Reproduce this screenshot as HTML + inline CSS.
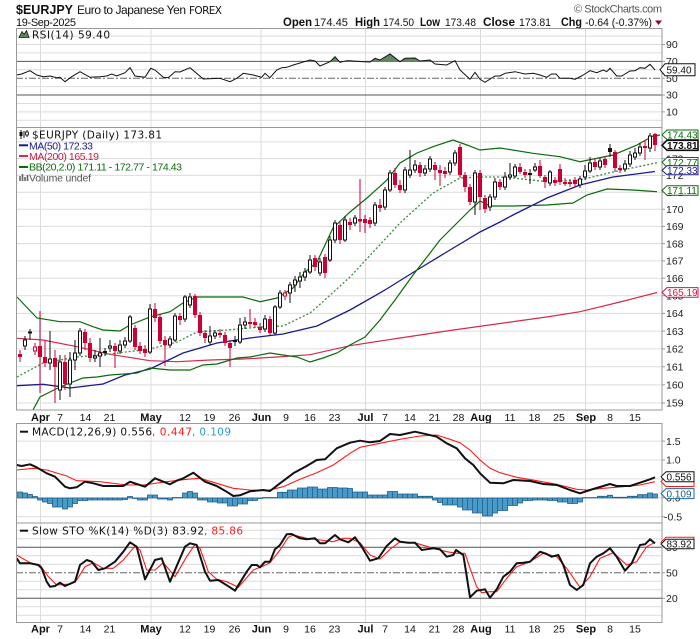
<!DOCTYPE html>
<html><head><meta charset="utf-8">
<style>
html,body{margin:0;padding:0;background:#fff;}
svg{display:block;}
text{font-family:"Liberation Sans",Arial,sans-serif;fill:#111;}
.d{font-family:"DejaVu Sans","Liberation Sans",sans-serif;}
.ax{font-size:10.5px;fill:#222;}
.bx{font-size:10px;}
</style></head><body>
<svg width="700" height="639" viewBox="0 0 700 639" xmlns="http://www.w3.org/2000/svg">
<defs>
<clipPath id="cp"><rect x="16.5" y="127.5" width="645.5" height="282.5"/></clipPath>
<clipPath id="cr"><rect x="16.5" y="28.5" width="645.5" height="32.9"/></clipPath>
</defs>
<rect width="700" height="639" fill="#fff"/>

<!-- Header -->
<text x="16" y="14" font-weight="bold" font-size="13" textLength="57" lengthAdjust="spacingAndGlyphs">$EURJPY</text>
<text x="77" y="14" font-size="12" textLength="109">Euro to Japanese Yen</text>
<text x="189" y="14" class="d" font-size="10.5" textLength="33">FOREX</text>
<text x="16" y="26" font-size="11" textLength="60">19-Sep-2025</text>
<text x="574" y="12.5" font-size="11" style="fill:#555" textLength="88">© StockCharts.com</text>
<text x="283" y="26" font-weight="bold" font-size="12" textLength="29" lengthAdjust="spacingAndGlyphs">Open</text>
<text x="314" y="26" font-size="11" textLength="34" lengthAdjust="spacingAndGlyphs">174.45</text>
<text x="355" y="26" font-weight="bold" font-size="12" textLength="25" lengthAdjust="spacingAndGlyphs">High</text>
<text x="383" y="26" font-size="11" textLength="31" lengthAdjust="spacingAndGlyphs">174.50</text>
<text x="420" y="26" font-weight="bold" font-size="12" textLength="20" lengthAdjust="spacingAndGlyphs">Low</text>
<text x="445" y="26" font-size="11" textLength="31" lengthAdjust="spacingAndGlyphs">173.48</text>
<text x="483" y="26" font-weight="bold" font-size="12" textLength="32" lengthAdjust="spacingAndGlyphs">Close</text>
<text x="519" y="26" font-size="11" textLength="32" lengthAdjust="spacingAndGlyphs">173.81</text>
<text x="561" y="26" font-weight="bold" font-size="12" textLength="21" lengthAdjust="spacingAndGlyphs">Chg</text>
<text x="585" y="26" font-size="11" textLength="67" lengthAdjust="spacingAndGlyphs">-0.64 (-0.37%)</text>
<polygon points="655,20.5 662,20.5 658.5,25" fill="#a00030"/>

<!-- RSI panel grid -->
<g stroke="#dcdcdc" stroke-width="1">
<path d="M16 36.1H662M16 44.5H662M16 52.9H662M16 69.8H662M16 86.6H662M16 103.5H662M16 111.9H662M16 120.3H662"/>
<path d="M40.5 28V127.5M151 28V127.5M261 28V127.5M365.5 28V127.5M480.5 28V127.5M585.5 28V127.5"/>
</g>
<path d="M16 61.4H662M16 95H662" stroke="#555" stroke-width="1"/>
<path d="M16 78.2H662" stroke="#666" stroke-width="1" stroke-dasharray="7,2,2,2"/>
<polygon clip-path="url(#cr)" fill="#5f8a5f" points="290,65 293.3,65 310,60 315,61 320,66 330,61.7 335,56.7 340,62.3 346.7,60.7 350,60.7 363.3,61.7 370,62 375,58.3 380,60 390,54 400,61.7 405,58.3 415,58 420,61 430,60 435,64 446.7,65 455,60.7 460,70 460,61.4 290,61.4"/>
<polyline fill="none" stroke="#111" stroke-width="1" points="16.7,75 21.7,74 30,70.7 36.7,75 43.3,76.7 50,76 56.7,77.7 60,77.3 65,81.7 71.7,76.7 80,71.7 90,77.3 100,76.7 106.7,76 111.7,74 116.7,76 125,72.7 130,67.7 135,76 145,77.3 150.7,68.3 155,70 163.3,77.3 168.3,77.7 175,71.7 180,72 190,67.7 203.3,79 220,78.3 230,81.7 236.7,78.3 243.3,73.3 253.3,75 261.7,77.3 265,73.3 270,77.7 276.7,70 281.7,67.7 286.7,67.3 293.3,65 310,60 315,61 320,66 330,61.7 335,56.7 340,62.3 346.7,60.7 350,60.7 363.3,61.7 370,62 375,58.3 380,60 390,54 400,61.7 405,58.3 415,58 420,61 430,60 435,64 446.7,65 455,60.7 460,70 470,79.3 475,72.3 480,79.3 485,82.3 495,76 500,76 505,73.3 515,71.7 525,74 533.3,73.3 540,75 546.7,77.3 551.7,74 556,74 560,78.3 570,78.3 575,79.3 583.3,75 590,70.7 596.7,72.7 603.3,70 606.7,71.7 610,68.3 616.7,76 621.7,76 630,71 635,70.7 640,67.7 645,68.3 650,64.3 655,70"/>
<rect x="16.5" y="28.5" width="645.5" height="99" fill="none" stroke="#999"/>
<polygon points="19,37.5 22,31.5 24,34.5 26.5,30.5 29,37.5" fill="#5f8a5f" stroke="#111" stroke-width="0.8"/>
<text x="32" y="38.3" class="d" font-size="10.5" textLength="78">RSI(14) 59.40</text>

<!-- Price panel grid -->
<g stroke="#dcdcdc" stroke-width="1">
<path d="M16 403H662M16 384.9H662M16 366.8H662M16 348.9H662M16 331.1H662M16 313.4H662M16 295.8H662M16 278.3H662M16 260.9H662M16 243.6H662M16 226.4H662M16 209.3H662M16 192.3H662M16 175.4H662M16 158.6H662M16 141.9H662"/>
<path d="M40.5 127.5V410M151 127.5V410M261 127.5V410M365.5 127.5V410M480.5 127.5V410M585.5 127.5V410"/>
</g>

<g clip-path="url(#cp)" fill="none">
<polyline stroke="#d42a50" stroke-width="1.2" points="17,338.3 43,340 77,346.7 110,354.3 150,360.7 177,361.7 210,360 243,359 277,357 310,354.7 350,345.7 400,338 450,330.5 500,323.5 550,316.5 580,311.7 620,302 657,292.5"/>
<polyline stroke="#1a1a8c" stroke-width="1.3" points="17,385.7 43,384.3 70,388 103,384 125,375 150,369 183,353 217,343 250,338 283,334 317,326 350,310 385,290 417,270 450,250 480,232 500,222 513,215 547,198 580,185 613,177 655,171.5"/>
<polyline stroke="#3c8c3c" stroke-width="1.3" stroke-dasharray="2,2" points="17,377 43,363 77,357 110,354 150,349 177,342 197,332 227,330 260,327 283,326 310,313 317,307 350,277 400,223 433,193 460,178 480,177 500,177 513,178 547,181.7 580,180 613,172 657,162.7"/>
<polyline stroke="#0a6b0a" stroke-width="1.2" points="17,297 37,318 60,321.7 80,321.7 93,326.7 103,330 120,331 130,325 150,317 170,311.7 183,303 197,297 243,297 260,301.7 277,298 293,288 305,272 317,262 333,228 350,212 367,198 387,180 400,163 417,153 433,146.7 453,140 467,145 480,150 500,148 533,153.3 560,156.7 580,161.7 613,155 637,145 653,136 660,135"/>
<polyline stroke="#0a6b0a" stroke-width="1.2" points="33,410 40,397 50,392 60,387 70,383 83,378 97,377 110,375 137,373 150,368 170,370 190,370 203,365 217,364 237,358 250,357 270,353 283,355 297,357 310,362 323,358 337,353 350,345 365,337 380,320 395,300 413,275 427,257 440,240 457,223 470,210 480,201 490,206 513,206 547,205 573,203 587,195 607,189 633,190 647,191 657,191.7"/>

<!-- wicks -->
<path stroke="#111" stroke-width="1" d="M25 336V350M30 329V340M50 331V370M60 355V400M70 352V397M75 340V370M80 328V356M95 350V362M100 338V367M105 348V356M110 340V352M120 340V354M125 337V348M130 315V343M150 304V354M170 336V348M175 313V342M185 295V322M190 293V308M210 326V345M215 330V339M235 336V346M240 318V344M245 317V329M265 315V332M275 305V335M280 290V309M290 282V303M295 276V292M300 272V288M305 268V281M310 255V274M320 258V276M330 236V262M335 220V243M345 216V242M355 215V226M375 202V226M385 187V210M390 170V192M405 167V193M410 150V178M415 160V173M425 165V176M430 156V172M450 160V175M455 150V166M475 170V215M490 194V211M495 178V200M505 172V190M510 163V180M515 164V178M530 169V184M535 163V172M550 170V186M580 176V188M585 165V180M590 157V173M600 158V170M610 144V157M625 160V172M630 151V167M635 148V160M640 143V156M650 133V152"/>
<path stroke="#cc0033" stroke-width="1" d="M20 350V362M35 343V355M40 311V393M45 340V367M55 350V403M65 355V390M85 329V350M90 338V362M115 343V368M135 325V350M140 342V354M145 345V357M155 303V322M160 314V344M165 336V366M180 313V325M195 294V318M200 312V336M205 330V343M220 329V338M225 332V346M230 340V367M250 309V327M255 318V328M260 323V333M270 316V335M285 290V300M315 255V271M325 254V278M340 222V244M350 218V230M360 179V232M365 215V233M370 217V228M380 199V212M395 168V188M400 180V193M420 162V177M435 162V180M440 165V186M445 167V178M460 144V178M465 172V192M470 184V205M480 170V210M485 195V213M500 179V190M520 163V174M525 169V178M540 160V178M545 175V188M555 177V186M560 164V185M565 178V186M570 179V187M575 177V187M595 158V170M605 156V168M615 150V172M620 165V173M645 140V160M655 133V151"/>

<!-- hollow up bodies -->
<path fill="#fff" stroke="#111" stroke-width="1" d="M23.5 340h3V346h-3zM48.5 359h3V363h-3zM58.5 362h3V390h-3zM68.5 360h3V384h-3zM73.5 353h3V360h-3zM78.5 331h3V353h-3zM93.5 356h3V358h-3zM98.5 353h3V356h-3zM108.5 346h3V348h-3zM118.5 345h3V351h-3zM123.5 341h3V345h-3zM128.5 317h3V341h-3zM148.5 309h3V352h-3zM168.5 339h3V345h-3zM173.5 316h3V340h-3zM183.5 297h3V319h-3zM188.5 297h3V305h-3zM208.5 336h3V342h-3zM213.5 333h3V336h-3zM238.5 325h3V342h-3zM243.5 322h3V325h-3zM263.5 319h3V329h-3zM273.5 307h3V333h-3zM278.5 293h3V307h-3zM288.5 285h3V293h-3zM293.5 280h3V285h-3zM298.5 277h3V281h-3zM303.5 272h3V277h-3zM308.5 260h3V272h-3zM318.5 262h3V273h-3zM328.5 240h3V260h-3zM333.5 223h3V240h-3zM343.5 220h3V240h-3zM353.5 218h3V223h-3zM373.5 205h3V223h-3zM383.5 190h3V207h-3zM388.5 173h3V190h-3zM403.5 170h3V190h-3zM408.5 170h3V175h-3zM413.5 165h3V170h-3zM423.5 169h3V173h-3zM428.5 159h3V169h-3zM448.5 163h3V172h-3zM453.5 153h3V163h-3zM473.5 173h3V202h-3zM488.5 197h3V207h-3zM493.5 182h3V197h-3zM503.5 177h3V187h-3zM508.5 175h3V177h-3zM513.5 167h3V176h-3zM533.5 167h3V170h-3zM548.5 172h3V183h-3zM578.5 179h3V185h-3zM583.5 171h3V177h-3zM588.5 163h3V171h-3zM598.5 161h3V167h-3zM623.5 164h3V169h-3zM628.5 155h3V164h-3zM633.5 153h3V157h-3zM638.5 147h3V153h-3zM648.5 136h3V148h-3z"/>
<!-- red hollow -->
<path fill="#fff" stroke="#cc0033" stroke-width="1" d="M33.5 347h3V351h-3zM283.5 293h3V296h-3z"/>
<!-- red filled -->
<path fill="#cc0033" d="M18 354h4V357h-4zM38 346h4V357h-4zM43 357h4V363h-4zM53 358h4V367h-4zM63 362h4V384h-4zM83 332h4V343h-4zM88 343h4V358h-4zM113 346h4V351h-4zM133 328h4V347h-4zM138 346h4V351h-4zM143 349h4V353h-4zM153 309h4V318h-4zM158 317h4V341h-4zM163 340h4V345h-4zM178 316h4V320h-4zM193 296h4V315h-4zM198 315h4V333h-4zM203 333h4V338h-4zM218 333h4V335h-4zM223 335h4V343h-4zM228 343h4V348h-4zM248 322h4V324h-4zM253 322h4V325h-4zM258 327h4V330h-4zM268 319h4V333h-4zM313 258h4V267h-4zM323 257h4V273h-4zM338 225h4V240h-4zM348 222h4V225h-4zM358 219h4V221.5h-4zM363 219h4V223h-4zM368 220h4V224h-4zM378 205h4V208h-4zM393 173h4V185h-4zM398 185h4V190h-4zM418 165h4V173h-4zM433 165h4V170h-4zM438 170h4V173h-4zM443 171h4V174h-4zM458 147h4V175h-4zM463 175h4V187h-4zM468 187h4V202h-4zM478 173h4V197h-4zM483 198h4V209h-4zM498 182h4V187h-4zM518 167h4V172h-4zM523 172h4V175h-4zM538 166h4V176h-4zM543 177h4V182h-4zM553 180h4V183h-4zM558 169h4V182h-4zM563 182h4V184h-4zM568 182h4V184h-4zM573 180h4V184h-4zM593 162h4V167h-4zM603 159h4V165h-4zM613 152h4V168h-4zM618 168h4V170h-4zM643 146h4V148h-4zM653 134h4V145h-4z"/>
<!-- black filled -->
<path fill="#111" d="M28 331.5h4V333.5h-4zM103 351h4V353h-4zM233 340h4V342h-4zM528 173h4V175h-4zM608 148h4V152h-4z"/>
</g>
<rect x="16.5" y="127.5" width="645.5" height="282.5" fill="none" stroke="#999"/>

<!-- price legend -->
<g fill="none" stroke="#111" stroke-width="1">
<path d="M21 130V139M24 131V138M27 130V137"/>
</g>
<rect x="19.5" y="132" width="3" height="4" fill="#111"/>
<rect x="25.5" y="132" width="3" height="3" fill="#fff" stroke="#111" stroke-width="0.8"/>
<text x="32" y="138.3" class="d" font-size="10.5" textLength="130">$EURJPY (Daily) 173.81</text>
<path d="M19 145.3H28" stroke="#1a1a8c" stroke-width="2"/>
<text x="29" y="149.3" font-size="10.5" style="fill:#1a1a8c" textLength="64">MA(50) 172.33</text>
<path d="M19 156H28" stroke="#d42a50" stroke-width="2"/>
<text x="29" y="160" font-size="10.5" style="fill:#cc1a44" textLength="70">MA(200) 165.19</text>
<path d="M19 167H28" stroke="#0a6b0a" stroke-width="2"/>
<text x="29" y="170.7" font-size="10.5" style="fill:#0a6b0a" textLength="153">BB(20,2.0) 171.11 - 172.77 - 174.43</text>
<path d="M20 181V176M22.5 181V174M25 181V177M27.5 181V175" stroke="#666" stroke-width="1.6"/>
<text x="29" y="181.5" font-size="10.5" style="fill:#555" textLength="62">Volume undef</text>

<!-- x axis labels top -->
<g font-size="10.5" text-anchor="middle">
<text x="40.5" y="421" font-weight="bold" font-size="11">Apr</text>
<text x="60" y="421">7</text><text x="85.5" y="421">14</text><text x="109.5" y="421">21</text>
<text x="151" y="421" font-weight="bold" font-size="11">May</text>
<text x="185" y="421">12</text><text x="209.5" y="421">19</text><text x="234.5" y="421">26</text>
<text x="261.5" y="421" font-weight="bold" font-size="11">Jun</text>
<text x="286" y="421">9</text><text x="310" y="421">16</text><text x="334.5" y="421">23</text>
<text x="365.5" y="421" font-weight="bold" font-size="11">Jul</text>
<text x="385" y="421">7</text><text x="410" y="421">14</text><text x="434.5" y="421">21</text><text x="458.5" y="421">28</text>
<text x="481" y="421" font-weight="bold" font-size="11">Aug</text>
<text x="510" y="421">11</text><text x="534.5" y="421">18</text><text x="559" y="421">25</text>
<text x="586" y="421" font-weight="bold" font-size="11">Sep</text>
<text x="610" y="421">8</text><text x="635" y="421">15</text>
</g>

<!-- MACD panel -->
<g stroke="#dcdcdc" stroke-width="1">
<path d="M16 441.1H662M16 460H662M16 478.9H662M16 497.8H662M16 516.7H662"/>
<path d="M40.5 423.5V523M151 423.5V523M261 423.5V523M365.5 423.5V523M480.5 423.5V523M585.5 423.5V523"/>
</g>
<path fill="#4a9bc9" stroke="#1d5e8a" stroke-width="0.8" d="M17.5 492h5V498h-5zM22.5 493h5V498h-5zM27.5 494.5h5V498h-5zM32.5 496.5h5V498h-5zM37.5 498h5V500h-5zM42.5 498h5V502h-5zM47.5 498h5V503.5h-5zM52.5 498h5V507h-5zM57.5 498h5V507h-5zM62.5 498h5V509h-5zM67.5 498h5V507h-5zM72.5 498h5V503.5h-5zM77.5 498h5V500.5h-5zM82.5 498h5V500.5h-5zM87.5 498h5V500h-5zM92.5 498h5V500h-5zM97.5 498h5V500h-5zM102.5 498h5V500h-5zM107.5 498h5V500h-5zM112.5 498h5V500h-5zM117.5 498h5V500h-5zM122.5 498h5V499.5h-5zM127.5 496.5h5V498h-5zM132.5 498h5V498.5h-5zM137.5 498h5V500h-5zM142.5 498h5V500h-5zM147.5 495h5V498h-5zM152.5 495h5V498h-5zM157.5 498h5V499h-5zM162.5 498h5V499h-5zM167.5 498h5V500h-5zM172.5 497.5h5V498h-5zM177.5 497.5h5V498h-5zM182.5 493h5V498h-5zM187.5 491.5h5V498h-5zM192.5 493h5V498h-5zM197.5 498h5V500h-5zM202.5 498h5V500h-5zM207.5 498h5V502h-5zM212.5 498h5V502h-5zM217.5 498h5V503h-5zM222.5 498h5V503h-5zM227.5 498h5V506h-5zM232.5 498h5V506h-5zM237.5 498h5V504h-5zM242.5 498h5V504h-5zM247.5 498h5V500.5h-5zM252.5 498h5V500.5h-5zM257.5 498h5V498.5h-5zM262.5 497.5h5V498h-5zM267.5 497.5h5V498h-5zM272.5 497.5h5V498h-5zM277.5 492.3h5V498h-5zM282.5 492.3h5V498h-5zM287.5 490h5V498h-5zM292.5 490h5V498h-5zM297.5 488h5V498h-5zM302.5 488h5V498h-5zM307.5 487h5V498h-5zM312.5 487h5V498h-5zM317.5 489h5V498h-5zM322.5 489h5V498h-5zM327.5 487.5h5V498h-5zM332.5 487.5h5V498h-5zM337.5 488h5V498h-5zM342.5 488h5V498h-5zM347.5 488.5h5V498h-5zM352.5 492h5V498h-5zM357.5 492h5V498h-5zM362.5 492h5V498h-5zM367.5 495h5V498h-5zM372.5 495h5V498h-5zM377.5 495h5V498h-5zM382.5 495h5V498h-5zM387.5 491.5h5V498h-5zM392.5 491.5h5V498h-5zM397.5 494h5V498h-5zM402.5 494h5V498h-5zM407.5 494h5V498h-5zM412.5 494h5V498h-5zM417.5 496.3h5V498h-5zM422.5 496.3h5V498h-5zM427.5 496.3h5V498h-5zM432.5 498h5V500h-5zM437.5 498h5V502.5h-5zM442.5 498h5V505h-5zM447.5 498h5V505h-5zM452.5 498h5V505h-5zM457.5 498h5V507h-5zM462.5 498h5V510h-5zM467.5 498h5V510h-5zM472.5 498h5V513h-5zM477.5 498h5V513h-5zM482.5 498h5V516h-5zM487.5 498h5V516h-5zM492.5 498h5V513h-5zM497.5 498h5V510.5h-5zM502.5 498h5V510.5h-5zM507.5 498h5V505.5h-5zM512.5 498h5V505.5h-5zM517.5 498h5V503h-5zM522.5 498h5V500.5h-5zM527.5 498h5V500.5h-5zM532.5 498h5V500h-5zM537.5 498h5V500h-5zM542.5 498h5V500h-5zM547.5 498h5V500.5h-5zM552.5 498h5V500.5h-5zM557.5 498h5V502h-5zM562.5 498h5V502h-5zM567.5 498h5V503.5h-5zM572.5 498h5V503.5h-5zM577.5 498h5V502h-5zM582.5 497.7h5V498h-5zM587.5 497.7h5V498h-5zM592.5 497.7h5V498h-5zM597.5 496.3h5V498h-5zM602.5 496.3h5V498h-5zM607.5 495.3h5V498h-5zM612.5 497.3h5V498h-5zM617.5 497.3h5V498h-5zM622.5 497.3h5V498h-5zM627.5 496.3h5V498h-5zM632.5 496.3h5V498h-5zM637.5 494.7h5V498h-5zM642.5 494.7h5V498h-5zM647.5 493h5V498h-5zM652.5 494h5V498h-5z"/>
<polyline fill="none" stroke="#ff1a1a" stroke-width="1.1" points="16.7,470 33.3,468.3 46.7,470 66.7,476 76.7,480.7 100,481.7 126.7,485 143.3,485 166.7,481.7 186.7,479.3 200,478.3 216.7,483.3 233.3,488.3 250,490 266.7,490.7 283.3,486.7 300,479.3 316.7,472.7 333.3,465 350,453.3 360,447.3 380,443.3 400,439.3 420,436 436.7,435 450,439.3 460,442.7 470,450 480,460 490,468.3 500,472.7 516.7,477.3 536.7,480.7 556.7,484.3 576.7,489.3 586.7,490 603.3,488.3 623.3,486.7 640,485 655,481.7"/>
<polyline fill="none" stroke="#111" stroke-width="2" stroke-linejoin="round" points="16.7,465 21.7,466 30,464.3 36.7,467.3 46.7,473.3 55,476.7 65,486.7 70,488.3 76.7,487.3 85,481.7 93.3,483.3 103.3,486 123.3,486 130,481.7 136.7,484 145,486.7 155,478.3 163.3,481.7 170,484.3 176.7,480.7 183.3,478.3 193.3,472.7 205,481.7 216.7,486 226.7,491.7 233.3,496 240,495.3 250,491.3 263.3,490 270,491 280,483.3 293.3,473.3 306.7,466 316.7,460 325,459.3 336.7,448.3 350,442.7 360,440.7 370,442.3 380,441 390,434 400,435 415,431.7 426.7,434.3 436.7,436.7 446.7,443.3 456.7,448.3 465,458.3 473.3,465 480,473.3 490,482.7 503.3,483.3 513.3,480 530,481 543.3,484 556.7,485 570,490 580,493.3 590,490 603.3,486 610,484 616.7,486 630,486 640,482.7 650,479.3 655,477.3"/>
<rect x="16.5" y="423.5" width="645.5" height="99.5" fill="none" stroke="#999"/>
<path d="M20 431.7H28" stroke="#111" stroke-width="2"/>
<text x="32" y="435.5" class="d" font-size="10.5" textLength="120">MACD(12,26,9) 0.556</text>
<text x="152" y="435.5" class="d" font-size="10.5" style="fill:#ff1a1a" textLength="40">, 0.447</text>
<text x="192" y="435.5" class="d" font-size="10.5" style="fill:#2a9ad6" textLength="39">, 0.109</text>

<!-- STO panel -->
<g stroke="#dcdcdc" stroke-width="1">
<path d="M16 530.3H662M16 538.8H662M16 555.8H662M16 564.3H662M16 581.3H662M16 589.8H662M16 606.8H662M16 615.3H662"/>
<path d="M40.5 523V622.5M151 523V622.5M261 523V622.5M365.5 523V622.5M480.5 523V622.5M585.5 523V622.5"/>
</g>
<path d="M16 547.3H662M16 598.3H662" stroke="#555" stroke-width="1"/>
<path d="M16 572.8H662" stroke="#666" stroke-width="1" stroke-dasharray="7,2,2,2"/>
<polyline fill="none" stroke="#ff1a1a" stroke-width="1.1" points="16.7,555 30,562.7 40,565 48.3,576.7 56.7,585 70,584 76.7,580 85,566.7 93.3,562.7 103.3,568.3 113.3,568.3 123.3,560 135,546 140,550 146.7,570 155,570 163.3,562.7 175,576.7 186.7,556.7 195,544.3 200,548.3 208.3,571.7 216.7,579.3 226.7,581.7 238.3,587.3 253.3,570 263.3,566 270,562.7 280,550 288.3,537.3 293.3,535 306.7,538.3 320,540 333.3,541.7 343.3,538.3 350,538.3 360,542.7 370,555 380,559 390,549.3 400,541.7 416.7,543.3 433.3,548.3 446.7,551.7 456.7,553.3 465,553.3 470,568.3 476.7,586.7 481.7,592.7 490,591.7 496.7,591.7 506.7,578.3 516.7,566.7 530,561.7 543.3,553.3 556.7,556.7 566.7,568.3 580,587.3 590,576.7 600,558.3 613.3,552.7 626.7,565 636.7,561.7 646.7,546.7 655,542.3"/>
<polyline fill="none" stroke="#111" stroke-width="2" stroke-linejoin="round" points="16.7,558.3 20,563.3 30,563.3 38.3,565 41.7,568.3 46.7,581.7 50,586.7 55,586 60,582.7 65,586 75,581.7 80,565 86.7,560 91.7,561.7 98.3,570 105,568.3 115,561.7 123.3,551.7 130,542.3 136.7,546.7 145,579.3 155,560 161.7,558.3 170,581.7 185,546.7 190,543.3 196.7,545 205,571.7 210,580.7 218.3,580 230,587.3 235,590.7 246.7,571.7 251.7,565 256.7,565 260,567.3 265,561.7 270,561.7 275,549.3 280,545 286.7,534.3 291.7,534 300,538.3 306.7,539.3 315,538.3 320,543.3 325,543.3 335,535 340,539.3 348.3,542.3 355,537.3 361.7,546.7 370,560.7 378.3,558.3 386.7,546 395,538.3 400,541.7 408.3,542.7 415,542.7 421.7,550 433.3,548.3 440,549.3 446.7,556.7 453.3,555 456,550 463.3,555 466,571.7 470,597.3 476.7,590.7 485,589.3 490,597.7 496.7,589.3 503.3,576.7 510,571.7 516.7,563.3 523.3,562.7 530,561.7 540,551.7 546.7,554 551.7,556.7 558.3,555 563.3,565 570,585 576.7,590 583.3,585 590,563.3 596.7,556.7 603.3,553.3 610,548.3 616.7,556.7 625,570.7 631.7,563.3 640,545 645,544.3 650,539.3 655,543.3"/>
<rect x="16.5" y="523" width="645.5" height="99.5" fill="none" stroke="#999"/>
<path d="M20 530.7H28" stroke="#111" stroke-width="2"/>
<text x="32" y="534.3" class="d" font-size="10.5" textLength="172">Slow STO %K(14) %D(3) 83.92</text>
<text x="204" y="534.3" class="d" font-size="10.5" style="fill:#ff1a1a" textLength="39">, 85.86</text>

<!-- x axis labels bottom -->
<g font-size="10.5" text-anchor="middle">
<text x="40.5" y="632.5" font-weight="bold" font-size="11">Apr</text>
<text x="60" y="632.5">7</text><text x="85.5" y="632.5">14</text><text x="109.5" y="632.5">21</text>
<text x="151" y="632.5" font-weight="bold" font-size="11">May</text>
<text x="185" y="632.5">12</text><text x="209.5" y="632.5">19</text><text x="234.5" y="632.5">26</text>
<text x="261.5" y="632.5" font-weight="bold" font-size="11">Jun</text>
<text x="286" y="632.5">9</text><text x="310" y="632.5">16</text><text x="334.5" y="632.5">23</text>
<text x="365.5" y="632.5" font-weight="bold" font-size="11">Jul</text>
<text x="385" y="632.5">7</text><text x="410" y="632.5">14</text><text x="434.5" y="632.5">21</text><text x="458.5" y="632.5">28</text>
<text x="481" y="632.5" font-weight="bold" font-size="11">Aug</text>
<text x="510" y="632.5">11</text><text x="534.5" y="632.5">18</text><text x="559" y="632.5">25</text>
<text x="586" y="632.5" font-weight="bold" font-size="11">Sep</text>
<text x="610" y="632.5">8</text><text x="635" y="632.5">15</text>
</g>

<!-- right axis ticks -->
<path stroke="#999" stroke-width="1" d="M662 44.5h3M662 61.4h3M662 78.2h3M662 95h3M662 111.9h3M662 403h3M662 384.9h3M662 366.8h3M662 348.9h3M662 331.1h3M662 313.4h3M662 295.8h3M662 278.3h3M662 260.9h3M662 243.6h3M662 226.4h3M662 209.3h3M662 192.3h3M662 175.4h3M662 158.6h3M662 141.9h3M662 441.1h3M662 460h3M662 478.9h3M662 497.8h3M662 516.7h3M662 547.3h3M662 572.8h3M662 598.3h3"/>

<!-- right axis labels -->
<g class="ax">
<text x="666" y="48.2" class="ax">90</text>
<text x="666" y="65.1" class="ax">70</text>
<text x="666" y="81.9" class="ax">50</text>
<text x="666" y="98.7" class="ax">30</text>
<text x="666" y="115.6" class="ax">10</text>
<text x="666" y="406.7" class="ax">159</text>
<text x="666" y="388.6" class="ax">160</text>
<text x="666" y="370.5" class="ax">161</text>
<text x="666" y="352.6" class="ax">162</text>
<text x="666" y="334.8" class="ax">163</text>
<text x="666" y="317.1" class="ax">164</text>
<text x="666" y="299.5" class="ax">165</text>
<text x="666" y="282" class="ax">166</text>
<text x="666" y="264.6" class="ax">167</text>
<text x="666" y="247.3" class="ax">168</text>
<text x="666" y="230.1" class="ax">169</text>
<text x="666" y="213" class="ax">170</text>
<text x="666" y="196" class="ax">171</text>
<text x="666" y="179.1" class="ax">172</text>
<text x="666" y="162.3" class="ax">173</text>
<text x="666" y="145.6" class="ax">174</text>
<text x="666" y="444.8" class="ax">1.5</text>
<text x="666" y="463.7" class="ax">1.0</text>
<text x="666" y="482.6" class="ax">0.5</text>
<text x="666" y="501.5" class="ax">0.0</text>
<text x="664" y="520.4" class="ax">-0.5</text>
<text x="666" y="551" class="ax">80</text>
<text x="666" y="576.5" class="ax">50</text>
<text x="666" y="602" class="ax">20</text>
</g>

<!-- value boxes -->
<polygon points="660,69.7 665,63.7 695,63.7 695,75.7 665,75.7" fill="#fff" stroke="#111"/>
<text x="666.5" y="73.6" class="bx" font-size="10.5">59.40</text>

<polygon points="662,134.8 667,130 698,130 698,139.6 667,139.6" fill="#fff" stroke="#0a6b0a"/>
<text x="667" y="138.5" class="bx" style="fill:#0a6b0a">174.43</text>
<polygon points="662,145.3 667,140.3 698,140.3 698,150.3 667,150.3" fill="#fff" stroke="#111" stroke-width="1.6"/>
<text x="667" y="149" class="bx" font-weight="bold">173.81</text>
<polygon points="662,162.3 667,157.5 698,157.5 698,167.1 667,167.1" fill="#fff" stroke="#0a6b0a"/>
<text x="667" y="166" class="bx" style="fill:#0a6b0a">172.77</text>
<polygon points="662,170.2 667,165.7 698,165.7 698,174.7 667,174.7" fill="#fff" stroke="#1a1a8c"/>
<text x="667" y="173.8" class="bx" style="fill:#1a1a8c">172.33</text>
<polygon points="662,190.5 667,185.7 698,185.7 698,195.3 667,195.3" fill="#fff" stroke="#0a6b0a"/>
<text x="667" y="194.2" class="bx" style="fill:#0a6b0a">171.11</text>
<polygon points="662,292.4 667,287.6 698,287.6 698,297.2 667,297.2" fill="#fff" stroke="#cc1a44"/>
<text x="667" y="296.1" class="bx" style="fill:#cc1a44">165.19</text>

<polygon points="661,481.5 666,476.5 694,476.5 694,486.5 666,486.5" fill="#fff" stroke="#ff1a1a"/>
<polygon points="661,476.8 666,471.8 694,471.8 694,481.8 666,481.8" fill="#fff" stroke="#111"/>
<text x="666.5" y="480.5" class="bx">0.556</text>
<polygon points="661,493.6 666,488.6 694,488.6 694,498.6 666,498.6" fill="#fff" stroke="#1d6aa0"/>
<text x="666.5" y="497.3" class="bx" style="fill:#1d5e8a">0.109</text>

<polygon points="661,542.3 666,537.3 694,537.3 694,547.3 666,547.3" fill="#fff" stroke="#ff1a1a"/>
<polygon points="661,544 666,539.3 694,539.3 694,548.7 666,548.7" fill="#fff" stroke="#111"/>
<text x="666.5" y="547.6" class="bx">83.92</text>
</svg>
</body></html>
